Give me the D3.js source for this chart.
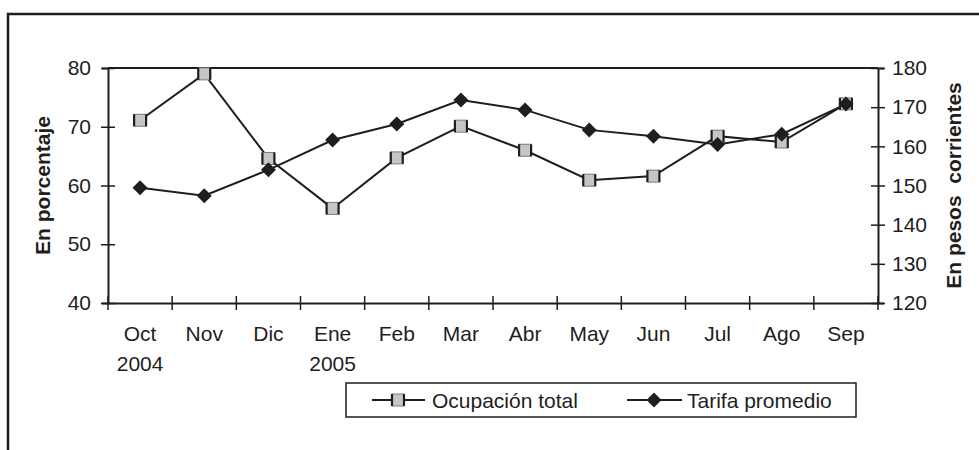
<!DOCTYPE html>
<html><head><meta charset="utf-8">
<script src="https://cdn.jsdelivr.net/npm/d3@7/dist/d3.min.js"></script>
<style>
html,body{margin:0;padding:0;background:#fff;}
svg{display:block;font-family:"Liberation Sans",Arial,sans-serif;}
</style></head>
<body>
<svg id="chart" width="979" height="450"></svg>
<script>
const months = ["Oct","Nov","Dic","Ene","Feb","Mar","Abr","May","Jun","Jul","Ago","Sep"];
const years = ["2004","","","2005","","","","","","","",""];
const ocupacion = [71.1, 79.0, 64.6, 56.1, 64.7, 70.1, 66.0, 60.9, 61.6, 68.4, 67.4, 73.9];
const tarifa = [149.4, 147.4, 154.0, 161.6, 165.7, 171.8, 169.3, 164.2, 162.6, 160.5, 163.1, 170.8];
const leftTicks = [40,50,60,70,80];
const rightTicks = [120,130,140,150,160,170,180];
const seriesNames = ["Ocupación total","Tarifa promedio"];

const ink = "#1e1e1e";
const fs = 21;
const svg = d3.select("#chart");
const L = 108, R = 878, T = 68, B = 303;

const x = d3.scaleBand().domain(months).range([L, R]).padding(0);
const yL = d3.scaleLinear().domain([40,80]).range([B, T]);
const yR = d3.scaleLinear().domain([120,180]).range([B, T]);

// outer frame
svg.append("rect").attr("x",8).attr("y",14).attr("width",1000).attr("height",500)
  .attr("fill","none").attr("stroke",ink).attr("stroke-width",2.5);

// plot frame (top)
svg.append("line").attr("x1",L).attr("x2",R).attr("y1",T).attr("y2",T)
  .attr("stroke",ink).attr("stroke-width",2);

// left axis
const gL = svg.append("g").attr("transform",`translate(${L},0)`)
  .call(d3.axisLeft(yL).tickValues(leftTicks).tickSize(6).tickPadding(12));
gL.select(".domain").attr("stroke",ink).attr("stroke-width",2);
gL.selectAll(".tick line").attr("x1",-7).attr("x2",7).attr("stroke",ink).attr("stroke-width",1.5);
gL.selectAll(".tick text").attr("font-size",fs).attr("fill",ink).attr("font-family","Liberation Sans, Arial, sans-serif").attr("x",-17);

// right axis
const gR = svg.append("g").attr("transform",`translate(${R},0)`)
  .call(d3.axisRight(yR).tickValues(rightTicks).tickSize(6).tickPadding(12));
gR.select(".domain").attr("stroke",ink).attr("stroke-width",2);
gR.selectAll(".tick line").attr("x1",-7).attr("x2",7).attr("stroke",ink).attr("stroke-width",1.5);
gR.selectAll(".tick text").attr("font-size",fs).attr("fill",ink).attr("font-family","Liberation Sans, Arial, sans-serif").attr("x",14);

// bottom axis
const gB = svg.append("g").attr("transform",`translate(0,${B})`)
  .call(d3.axisBottom(x).tickSize(0).tickPadding(0));
gB.select(".domain").attr("stroke",ink).attr("stroke-width",2);
gB.selectAll(".tick text").remove();
const bounds = d3.range(months.length+1).map(i => L + i*x.bandwidth());
gB.selectAll("line.bt").data(bounds).join("line").attr("class","bt")
  .attr("x1",d=>d).attr("x2",d=>d).attr("y1",-7).attr("y2",7)
  .attr("stroke",ink).attr("stroke-width",1.5);
gB.selectAll("text.m").data(months).join("text").attr("class","m")
  .attr("x",d=>x(d)+x.bandwidth()/2).attr("y",38)
  .attr("text-anchor","middle").attr("font-size",fs).attr("fill",ink).text(d=>d);
gB.selectAll("text.yr").data(months).join("text").attr("class","yr")
  .attr("x",d=>x(d)+x.bandwidth()/2).attr("y",68)
  .attr("text-anchor","middle").attr("font-size",fs).attr("fill",ink)
  .text((d,i)=>years[i]);

// axis titles
svg.append("text").attr("transform",`translate(50,${(T+B)/2}) rotate(-90)`)
  .attr("text-anchor","middle").attr("font-size",21).attr("font-weight","bold").attr("fill",ink)
  .text("En porcentaje");
svg.append("text").attr("transform",`translate(961,${(T+B)/2}) rotate(-90)`)
  .attr("text-anchor","middle").attr("font-size",21).attr("font-weight","bold").attr("fill",ink)
  .attr("xml:space","preserve").style("white-space","pre")
  .text("En pesos  corrientes");

// lines
const cx = d => x(d) + x.bandwidth()/2;
const lineL = d3.line().x((d,i)=>cx(months[i])).y(d=>yL(d));
const lineR = d3.line().x((d,i)=>cx(months[i])).y(d=>yR(d));
svg.append("path").datum(ocupacion).attr("d",lineL).attr("fill","none").attr("stroke",ink).attr("stroke-width",2);
svg.append("path").datum(tarifa).attr("d",lineR).attr("fill","none").attr("stroke",ink).attr("stroke-width",2);

function squareMarker(g, px, py){
  const s = 12;
  g.append("rect").attr("x",px-s/2).attr("y",py-s/2).attr("width",s).attr("height",s)
    .attr("fill","#c6c6c6").attr("stroke","#7a7a7a").attr("stroke-width",1);
  g.append("line").attr("x1",px-s/2).attr("x2",px-s/2).attr("y1",py-s/2).attr("y2",py+s/2).attr("stroke",ink).attr("stroke-width",2.2);
  g.append("line").attr("x1",px+s/2).attr("x2",px+s/2).attr("y1",py-s/2).attr("y2",py+s/2).attr("stroke",ink).attr("stroke-width",2.2);
}
function diamondMarker(g, px, py){
  const r = 7.5;
  g.append("path").attr("d",`M${px},${py-r}L${px+r},${py}L${px},${py+r}L${px-r},${py}Z`)
    .attr("fill",ink);
}
const mk = svg.append("g");
ocupacion.forEach((v,i)=>squareMarker(mk, cx(months[i]), yL(v)));
tarifa.forEach((v,i)=>diamondMarker(mk, cx(months[i]), yR(v)));

// legend
const lg = svg.append("g");
lg.append("rect").attr("x",346).attr("y",383).attr("width",510).attr("height",34)
  .attr("fill","#fff").attr("stroke",ink).attr("stroke-width",1.5);
const ly = 400;
lg.append("line").attr("x1",372).attr("x2",425).attr("y1",ly).attr("y2",ly).attr("stroke",ink).attr("stroke-width",2);
squareMarker(lg, 398, ly);
lg.append("text").attr("x",432).attr("y",ly+7.5).attr("font-size",fs).attr("fill",ink).text(seriesNames[0]);
lg.append("line").attr("x1",627).attr("x2",682).attr("y1",ly).attr("y2",ly).attr("stroke",ink).attr("stroke-width",2);
diamondMarker(lg, 654, ly);
lg.append("text").attr("x",687).attr("y",ly+7.5).attr("font-size",fs).attr("fill",ink).text(seriesNames[1]);
</script>
</body></html>
